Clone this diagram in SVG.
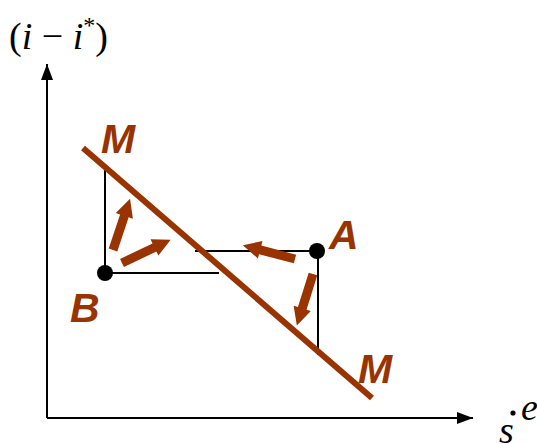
<svg xmlns="http://www.w3.org/2000/svg" width="537" height="444" viewBox="0 0 537 444">
<style>
.ax{stroke:#000;stroke-width:2;fill:none}
.thin{stroke:#000;stroke-width:2;fill:none}
.mline{stroke:#993300;stroke-width:6;fill:none;stroke-linecap:butt}
.arr{fill:#993300}
.lbl{font-family:"Liberation Sans",Arial,sans-serif;font-weight:bold;font-style:italic;font-size:41px;fill:#993300}
.math{font-family:"Liberation Serif","Times New Roman",serif;font-size:38px;fill:#000}
</style>
<defs>
<marker id="ah" viewBox="0 0 16 12" refX="16" refY="6" markerWidth="16" markerHeight="12" markerUnits="userSpaceOnUse" orient="auto">
<path d="M0,0 L16,6 L0,12 Z" fill="#000"/>
</marker>
<path id="barrow" d="M0,-4.5 L36,-4.5 L36,-9 L54,0 L36,9 L36,4.5 L0,4.5 Z"/>
</defs>
<g id="axes">
<line class="ax" x1="47" y1="418" x2="47" y2="64" marker-end="url(#ah)"/>
<line class="ax" x1="47" y1="418" x2="473" y2="418" marker-end="url(#ah)"/>
</g>
<g id="connectors">
<line class="thin" x1="195" y1="251" x2="317" y2="251"/>
<line class="thin" x1="318" y1="251" x2="318" y2="355"/>
<line class="thin" x1="105" y1="273" x2="219" y2="273"/>
<line class="thin" x1="105" y1="273" x2="105" y2="169"/>
</g>
<g id="mline">
<line class="mline" x1="83" y1="148" x2="372" y2="398"/>
</g>
<g id="arrows" class="arr">
<use href="#barrow" transform="translate(113,250) rotate(-71.6)"/>
<use href="#barrow" transform="translate(122,263) rotate(-25.6)"/>
<use href="#barrow" transform="translate(295,259) rotate(194.8)"/>
<use href="#barrow" transform="translate(313,274) rotate(107.4)"/>
</g>
<g id="A">
<circle cx="317" cy="251" r="8" fill="#000"/>
<text class="lbl" x="329" y="249">A</text>
</g>
<g id="B">
<circle cx="105" cy="273" r="8" fill="#000"/>
<text class="lbl" x="70" y="322">B</text>
</g>
<g id="M-labels">
<text class="lbl" x="101" y="153">M</text>
<text class="lbl" x="358" y="383">M</text>
</g>
<g id="axis-labels">
<text class="math" x="9" y="49">(<tspan font-style="italic">i</tspan> − <tspan font-style="italic">i</tspan><tspan font-size="24" dy="-16">*</tspan><tspan dy="16">)</tspan></text>
<text class="math" x="499" y="443" font-style="italic" font-size="50">s</text>
<text class="math" x="521" y="420" font-style="italic" font-size="34">e</text>
<circle cx="513" cy="413" r="2.6" fill="#000"/>
</g>
</svg>
